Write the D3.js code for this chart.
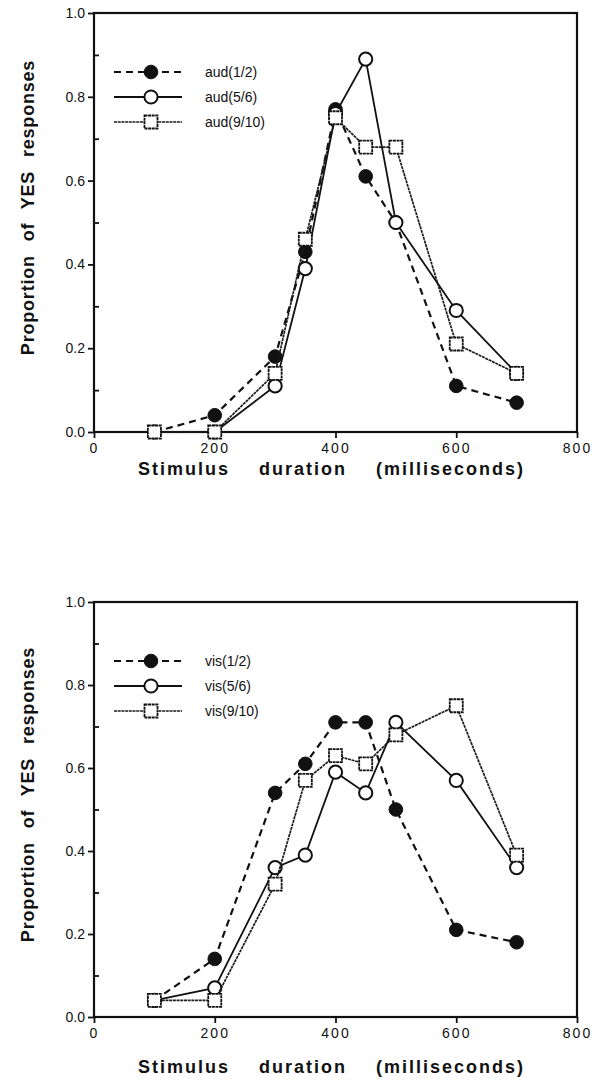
<!DOCTYPE html>
<html>
<head>
<meta charset="utf-8">
<script src="https://cdnjs.cloudflare.com/ajax/libs/d3/7.8.5/d3.min.js"></script>
<style>
  html, body { margin: 0; padding: 0; background: #fff; }
  svg { display: block; }
  text { font-family: "Liberation Sans", Arial, Helvetica, sans-serif; fill: #111; }
</style>
</head>
<body>
<script>
// ---------------- data ----------------
const durations = [100, 200, 300, 350, 400, 450, 500, 600, 700];

const aud12  = [0.00, 0.04, 0.18, 0.43, 0.77, 0.61, 0.50, 0.11, 0.07];
const aud56  = [0.00, 0.00, 0.11, 0.39, 0.76, 0.89, 0.50, 0.29, 0.14];
const aud910 = [0.00, 0.00, 0.14, 0.46, 0.75, 0.68, 0.68, 0.21, 0.14];

const vis12  = [0.04, 0.14, 0.54, 0.61, 0.71, 0.71, 0.50, 0.21, 0.18];
const vis56  = [0.04, 0.07, 0.36, 0.39, 0.59, 0.54, 0.71, 0.57, 0.36];
const vis910 = [0.04, 0.04, 0.32, 0.57, 0.63, 0.61, 0.68, 0.75, 0.39];

const audNames = ["aud(1/2)", "aud(5/6)", "aud(9/10)"];
const visNames = ["vis(1/2)", "vis(5/6)", "vis(9/10)"];

const xTicks = [0, 200, 400, 600, 800];
const yTicks = [0.0, 0.2, 0.4, 0.6, 0.8, 1.0];
const yMinorTicks = [0.1, 0.3, 0.5, 0.7, 0.9];

const xTitle = "Stimulus duration (milliseconds)";
const yTitle = "Proportion of YES responses";

// ---------------- drawing ----------------
const W = 602, H = 1081;
const svg = d3.select("body").append("svg").attr("width", W).attr("height", H);

const styles = [
  { marker: "filled", dash: "7,5", lw: 2.2, lineColor: "#111" },
  { marker: "open",   dash: null,  lw: 1.8, lineColor: "#111" },
  { marker: "square", dash: "3,0.7", lw: 1.7, lineColor: "#1a1a1a" }
];

function panel(top, bottom, seriesList, names, xLabelY) {
  const left = 94, right = 577;
  const x = d3.scaleLinear().domain([0, 800]).range([left, right]);
  const y = d3.scaleLinear().domain([0, 1]).range([bottom, top]);
  const g = svg.append("g");

  // frame
  g.append("rect")
    .attr("x", left).attr("y", top)
    .attr("width", right - left).attr("height", bottom - top)
    .attr("fill", "none").attr("stroke", "#111").attr("stroke-width", 2.2);

  // y axis (major ticks outward)
  const yAxis = d3.axisLeft(y).tickValues(yTicks).tickSize(6).tickPadding(3)
    .tickFormat(d3.format(".1f"));
  const ya = g.append("g").attr("transform", `translate(${left},0)`).call(yAxis);
  ya.select(".domain").remove();
  ya.selectAll("line").attr("stroke", "#111").attr("stroke-width", 1.8);
  ya.selectAll("text").style("font-size", "14px").attr("fill", "#111");

  // minor y ticks inward
  const ym = d3.axisRight(y).tickValues(yMinorTicks).tickSize(5).tickFormat("");
  const yma = g.append("g").attr("transform", `translate(${left},0)`).call(ym);
  yma.select(".domain").remove();
  yma.selectAll("line").attr("stroke", "#111").attr("stroke-width", 1.8);

  // x axis
  const xAxis = d3.axisBottom(x).tickValues(xTicks).tickSize(6).tickPadding(5)
    .tickFormat(d3.format("d"));
  const xa = g.append("g").attr("transform", `translate(0,${bottom})`).call(xAxis);
  xa.select(".domain").remove();
  xa.selectAll("line").attr("stroke", "#111").attr("stroke-width", 1.8);
  xa.selectAll("text").style("font-size", "14px").style("letter-spacing", "2px").attr("fill", "#111");

  // axis titles
  g.append("text")
    .attr("x", (left + right) / 2 - 4).attr("y", xLabelY - 2)
    .attr("text-anchor", "middle")
    .style("font-size", "18px").style("font-weight", "bold")
    .style("letter-spacing", "2px").style("word-spacing", "22px")
    .text(xTitle);

  g.append("text")
    .attr("transform", `translate(34,${(top + bottom) / 2 - 15}) rotate(-90)`)
    .attr("text-anchor", "middle")
    .style("font-size", "18px").style("font-weight", "bold")
    .style("letter-spacing", "0.8px").style("word-spacing", "8px")
    .text(yTitle);

  function drawMarker(sel, kind, cx, cy) {
    if (kind === "filled") {
      sel.append("circle").attr("cx", cx).attr("cy", cy).attr("r", 6.8)
        .attr("fill", "#111").attr("stroke", "#111").attr("stroke-width", 1);
    } else if (kind === "open") {
      sel.append("circle").attr("cx", cx).attr("cy", cy).attr("r", 6.6)
        .attr("fill", "#fff").attr("stroke", "#111").attr("stroke-width", 2);
    } else {
      sel.append("rect").attr("x", cx - 6.5).attr("y", cy - 6.5)
        .attr("width", 13).attr("height", 13)
        .attr("fill", "#fff").attr("stroke", "#111").attr("stroke-width", 1.8)
        .attr("stroke-dasharray", "3,0.6");
    }
  }

  const line = d3.line().x(d => x(d[0])).y(d => y(d[1]));

  seriesList.forEach((vals, i) => {
    const st = styles[i];
    const pts = durations.map((d, k) => [d, vals[k]]);
    const sg = g.append("g");
    sg.append("path").datum(pts).attr("d", line)
      .attr("fill", "none").attr("stroke", st.lineColor)
      .attr("stroke-width", st.lw)
      .attr("stroke-dasharray", st.dash);
    pts.forEach(p => drawMarker(sg, st.marker, x(p[0]), y(p[1])));
  });

  // legend
  const legOffsets = [59, 84, 109];
  names.forEach((nm, i) => {
    const st = styles[i];
    const ly = top + legOffsets[i];
    const lg = g.append("g");
    lg.append("line").attr("x1", 114).attr("x2", 182).attr("y1", ly).attr("y2", ly)
      .attr("stroke", st.lineColor).attr("stroke-width", st.lw)
      .attr("stroke-dasharray", st.dash);
    drawMarker(lg, st.marker, 151, ly);
    lg.append("text").attr("x", 205).attr("y", ly + 5)
      .style("font-size", "14px").text(nm);
  });
}

panel(13, 432, [aud12, aud56, aud910], audNames, 477);
panel(602, 1017, [vis12, vis56, vis910], visNames, 1075);
</script>
</body>
</html>
